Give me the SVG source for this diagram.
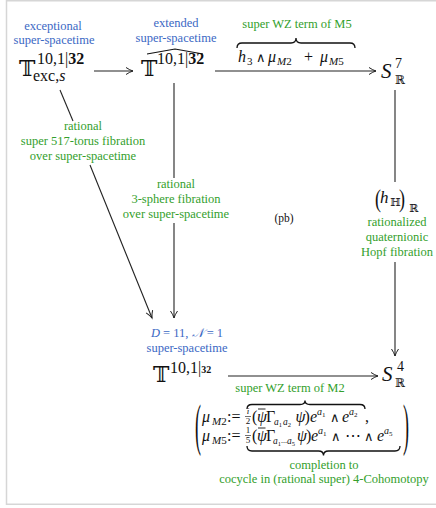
<svg xmlns="http://www.w3.org/2000/svg" width="436" height="508" viewBox="0 0 436 508">
<defs>
<style>
text{font-family:"Liberation Serif","DejaVu Serif",serif;fill:#111}
.b{fill:#3b68c4;font-size:12.5px;text-anchor:middle}
.g{fill:#33a02c;font-size:12.5px;text-anchor:middle}
.ds{font-family:"DejaVu Serif","DejaVu Sans",serif}
.op{font-family:"DejaVu Sans",sans-serif;font-weight:200}
.it{font-style:italic}
.ln{stroke:#222;stroke-width:1.1;fill:none}
.br{stroke:#111;stroke-width:1.3;fill:none}
</style>
<marker id="ah" viewBox="-8 -5 10 10" refX="0" refY="0" markerWidth="10" markerHeight="10" markerUnits="userSpaceOnUse" orient="auto">
<path d="M-7,-3.5 Q-3,-0.8 0,0 Q-3,0.8 -7,3.5" fill="none" stroke="#222" stroke-width="1"/>
</marker>
</defs>
<rect x="6.5" y="0.75" width="440" height="503.5" fill="#fff" stroke="#d6d6d6" stroke-width="1.5"/>

<g id="connectors">
<line class="ln" x1="94" y1="71" x2="133" y2="71" marker-end="url(#ah)"/>
<line class="ln" x1="215" y1="71" x2="376" y2="71" marker-end="url(#ah)"/>
<line class="ln" x1="228" y1="376" x2="378" y2="376" marker-end="url(#ah)"/>
<line class="ln" x1="60" y1="90" x2="73" y2="121"/>
<line class="ln" x1="90" y1="165" x2="152" y2="318" marker-end="url(#ah)"/>
<line class="ln" x1="174" y1="83" x2="174" y2="178"/>
<line class="ln" x1="174" y1="223" x2="174" y2="318" marker-end="url(#ah)"/>
<line class="ln" x1="395" y1="90" x2="395" y2="182"/>
<line class="ln" x1="395" y1="262" x2="395" y2="356" marker-end="url(#ah)"/>
<g id="label-torus">
<text class="g" x="83" y="130">rational</text>
<text class="g" x="83" y="145">super 517-torus fibration</text>
<text class="g" x="83" y="160">over super-spacetime</text>
</g>
<g id="label-sphere">
<text class="g" x="176" y="188">rational</text>
<text class="g" x="176" y="203">3-sphere fibration</text>
<text class="g" x="176" y="218">over super-spacetime</text>
</g>
<g id="label-hopf">
<text x="375" y="0" font-size="18" transform="translate(0,207) scale(1,1.45)">(</text>
<text x="380" y="203" font-size="17" class="it">h</text>
<text x="390" y="206" font-size="11" class="ds">ℍ</text>
<text x="399" y="0" font-size="18" transform="translate(0,207) scale(1,1.45)">)</text>
<text x="409" y="212" font-size="11" class="ds">ℝ</text>
<text class="g" x="397" y="226">rationalized</text>
<text class="g" x="397" y="241">quaternionic</text>
<text class="g" x="397" y="256">Hopf fibration</text>
</g>
<g id="label-M5">
<text class="g" x="297" y="28">super WZ term of M5</text>
<path class="br" d="M237,48 Q237,43 242,43 L291,43 Q296,43 296,38 Q296,43 301,43 L350,43 Q355,43 355,48"/>
<text y="62" font-size="16"><tspan x="238" class="it">h</tspan><tspan x="247" dy="3" font-size="11">3</tspan><tspan x="256" dy="-3" class="op" font-size="13">∧</tspan><tspan x="268" class="it">μ</tspan><tspan x="277" dy="3" font-size="11" class="it">M</tspan><tspan font-size="11">2</tspan><tspan x="304" dy="-3">+</tspan><tspan x="320" class="it">μ</tspan><tspan x="329" dy="3" font-size="11" class="it">M</tspan><tspan font-size="11">5</tspan></text>
</g>
<text x="284" y="222" font-size="11.5" text-anchor="middle">(pb)</text>
</g>

<g id="node-exc">
<text class="b" x="53" y="29.5">exceptional</text>
<text class="b" x="54" y="44">super-spacetime</text>
<text class="ds" x="19" y="76" font-size="22">𝕋</text>
<text x="37" y="64" font-size="16">10,1|<tspan font-weight="bold">32</tspan></text>
<text x="33" y="81" font-size="16">exc,<tspan class="it">s</tspan></text>
</g>

<g id="node-ext">
<text class="b" x="176" y="27">extended</text>
<text class="b" x="176" y="42">super-spacetime</text>
<path d="M147,54 L175,49 L203,54" fill="none" stroke="#111" stroke-width="1.1"/>
<text class="ds" x="141" y="76" font-size="22">𝕋</text>
<text x="157" y="64" font-size="16">10,1|<tspan font-weight="bold">32</tspan></text>
</g>

<g id="node-S7">
<text x="381" y="78" font-size="21" class="it">S</text>
<text x="395" y="68" font-size="14">7</text>
<text x="395" y="84" font-size="12" class="ds">ℝ</text>
</g>

<g id="node-sst">
<text class="b" x="187" y="337"><tspan class="it">D</tspan> = 11, <tspan class="it">𝒩</tspan> = 1</text>
<text class="b" x="187" y="352">super-spacetime</text>
<text class="ds" x="153" y="382" font-size="22">𝕋</text>
<text x="170" y="373" font-size="16">10,1|<tspan font-weight="bold" font-size="10">32</tspan></text>
</g>

<g id="node-S4">
<text x="382" y="381" font-size="21" class="it">S</text>
<text x="397" y="371" font-size="14">4</text>
<text x="395" y="387" font-size="12" class="ds">ℝ</text>
</g>

<g id="cocycle">
<text class="g" x="290" y="392">super WZ term of M2</text>
<path class="br" d="M247,409 Q247,404.5 252,404.5 L300,404.5 Q305,404.5 305,400.5 Q305,404.5 310,404.5 L360,404.5 Q365,404.5 365,409"/>
<path class="br" d="M247,446 Q247,451 252,451 L318.5,451 Q323.5,451 323.5,455.5 Q323.5,451 328.5,451 L395,451 Q400,451 400,446"/>
<text x="0" y="0" font-size="18" transform="translate(195,444) scale(1,3.2)">(</text>
<text x="0" y="0" font-size="18" transform="translate(403,444) scale(1,3.2)">)</text>
<text y="422" font-size="16"><tspan x="202" class="it">μ</tspan><tspan x="212" dy="3" font-size="11" class="it">M</tspan><tspan font-size="11">2</tspan><tspan x="227" dy="-3">:=</tspan><tspan x="252">(</tspan><tspan x="257" class="it">ψ</tspan><tspan x="266">Γ</tspan><tspan x="274" dy="3" font-size="9.5" class="it">a</tspan><tspan dy="2" font-size="6.5">1</tspan><tspan x="283" dy="-2" font-size="9.5" class="it">a</tspan><tspan dy="2" font-size="6.5">2</tspan><tspan x="295.5" dy="-5" class="it">ψ</tspan><tspan x="304.5">)</tspan><tspan x="310" class="it">e</tspan><tspan x="317" dy="-7" font-size="10" class="it">a</tspan><tspan dy="2" font-size="7">1</tspan><tspan x="330" dy="5" class="op" font-size="13">∧</tspan><tspan x="342" class="it">e</tspan><tspan x="349" dy="-7" font-size="10" class="it">a</tspan><tspan dy="2" font-size="7">2</tspan><tspan x="365" dy="5">,</tspan></text>
<text x="248" y="414" font-size="9" text-anchor="middle" class="it">i</text>
<line x1="245" y1="416.5" x2="251" y2="416.5" stroke="#111" stroke-width="0.6"/>
<text x="248" y="424" font-size="9" text-anchor="middle">2</text>
<line x1="258" y1="409" x2="265.5" y2="409" stroke="#111" stroke-width="0.9"/>
<text y="441" font-size="16"><tspan x="202" class="it">μ</tspan><tspan x="212" dy="3" font-size="11" class="it">M</tspan><tspan font-size="11">5</tspan><tspan x="227" dy="-3">:=</tspan><tspan x="252">(</tspan><tspan x="257" class="it">ψ</tspan><tspan x="266">Γ</tspan><tspan x="273" dy="3" font-size="9.5" class="it">a</tspan><tspan dy="2" font-size="6.5">1</tspan><tspan x="281" dy="-2" font-size="6">⋯</tspan><tspan x="287" font-size="9.5" class="it">a</tspan><tspan dy="2" font-size="6.5">5</tspan><tspan x="297" dy="-5" class="it">ψ</tspan><tspan x="306">)</tspan><tspan x="311" class="it">e</tspan><tspan x="318" dy="-7" font-size="10" class="it">a</tspan><tspan dy="2" font-size="7">1</tspan><tspan x="331" dy="5" class="op" font-size="13">∧</tspan><tspan x="345">⋯</tspan><tspan x="364" class="op" font-size="13">∧</tspan><tspan x="377" class="it">e</tspan><tspan x="384" dy="-7" font-size="10" class="it">a</tspan><tspan dy="2" font-size="7">5</tspan></text>
<text x="248" y="433" font-size="9" text-anchor="middle">1</text>
<line x1="245" y1="435.5" x2="251" y2="435.5" stroke="#111" stroke-width="0.6"/>
<text x="248" y="443" font-size="9" text-anchor="middle">5</text>
<line x1="258" y1="428" x2="265.5" y2="428" stroke="#111" stroke-width="0.9"/>
<text class="g" x="324" y="469">completion to</text>
<text class="g" x="324" y="483">cocycle in (rational super) 4-Cohomotopy</text>
</g>
</svg>
